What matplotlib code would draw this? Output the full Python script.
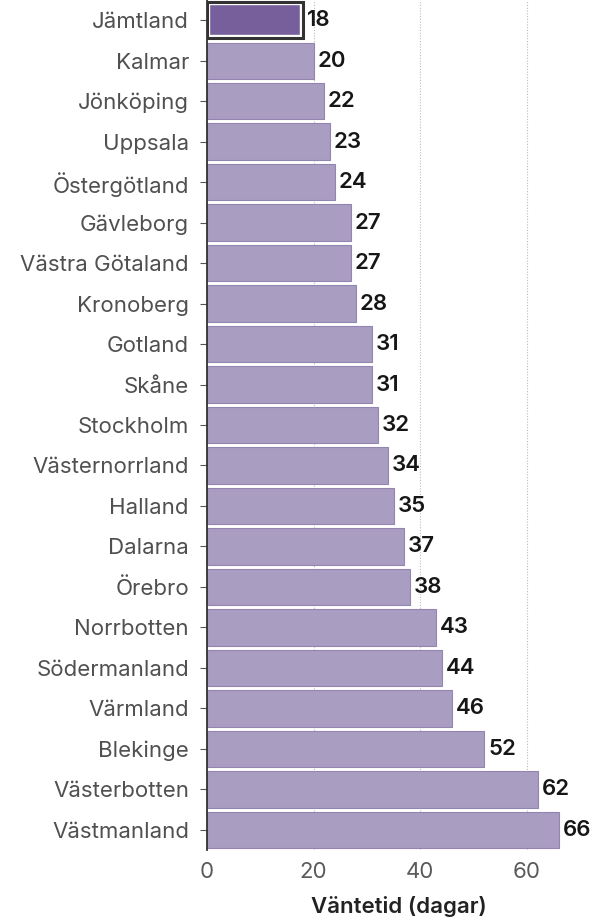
import matplotlib
matplotlib.use("Agg")
import matplotlib.pyplot as plt

regions = ["Jämtland", "Kalmar", "Jönköping", "Uppsala", "Östergötland", "Gävleborg",
           "Västra Götaland", "Kronoberg", "Gotland", "Skåne", "Stockholm", "Västernorrland",
           "Halland", "Dalarna", "Örebro", "Norrbotten", "Södermanland", "Värmland",
           "Blekinge", "Västerbotten", "Västmanland"]
values = [18, 20, 22, 23, 24, 27, 27, 28, 31, 31, 32, 34, 35, 37, 38, 43, 44, 46, 52, 62, 66]
highlight = "Jämtland"
x_ticks = [0, 20, 40, 60]

plt.rcParams['font.family'] = ['Inter', 'DejaVu Sans']

fig = plt.figure(figsize=(6.03, 9.23), dpi=100)
ax = fig.add_axes([207/603, 1 - 850/923, (591-207)/603, 850/923])

ypos = list(range(len(regions)))
base_col = "#a99dc2"
edge_col = "#9384b0"
hi_col = "#765f9b"

for y, r, v in zip(ypos, regions, values):
    if r == highlight:
        ax.barh(y, v, height=0.9, color=hi_col, edgecolor="white", linewidth=4.6, zorder=2)
        ax.barh(y, v, height=0.9, facecolor="none", edgecolor="#333333", linewidth=2.2, zorder=3)
    else:
        ax.barh(y, v, height=0.9, color=base_col, edgecolor=edge_col, linewidth=0.8, zorder=2)
    ax.text(v + 0.7, y, f"{v}", va="center", ha="left", fontsize=16,
            fontweight="semibold", color="#161616", zorder=4)

ax.set_ylim(len(regions) - 0.5, -0.5)
ax.set_xlim(0, 72)
ax.set_yticks(ypos)
ax.set_yticklabels(regions)
ax.set_xticks(x_ticks)
ax.tick_params(axis="y", length=5, width=0.8, color="#555555", labelsize=16,
               labelcolor="#505050", pad=8)
ax.tick_params(axis="x", length=0, labelsize=16, labelcolor="#5a5a5a", pad=9)

ax.grid(axis="x", linestyle=(0, (1, 1.5)), color="#bbbbbb", linewidth=0.8, zorder=0)
ax.set_axisbelow(True)
for s in ["top", "right", "bottom"]:
    ax.spines[s].set_visible(False)
ax.spines["left"].set_color("#333333")
ax.spines["left"].set_linewidth(1.3)
ax.spines["left"].set_zorder(5)

ax.set_xlabel("Väntetid (dagar)", fontsize=16, fontweight="semibold", color="#222222",
              labelpad=10)

fig.savefig("out.png", dpi=100)
